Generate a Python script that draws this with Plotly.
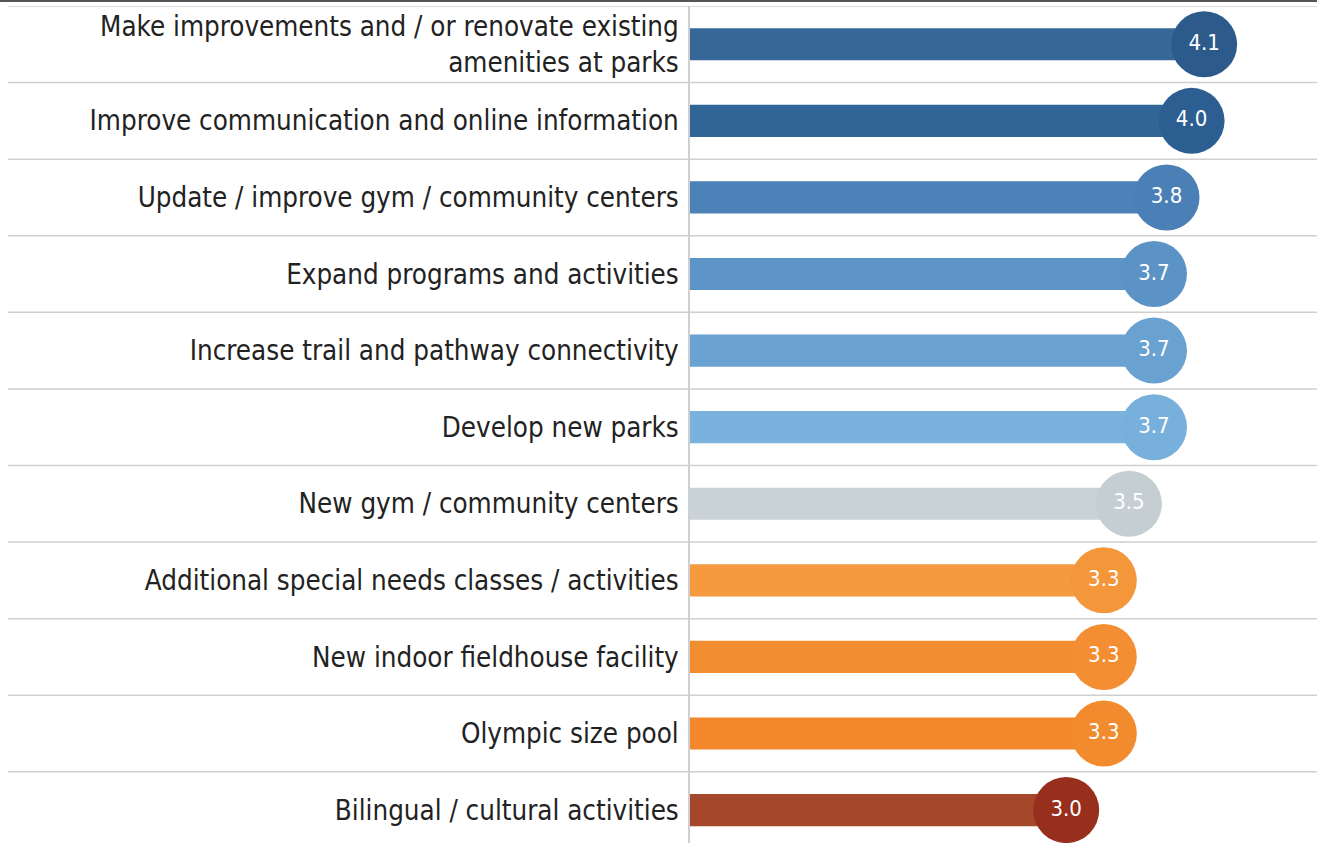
import plotly.graph_objects as go

# Survey priorities, top to bottom, with their mean rating
categories = [
    "Make improvements and / or renovate existing<br>amenities at parks",
    "Improve communication and online information",
    "Update / improve gym / community centers",
    "Expand programs and activities",
    "Increase trail and pathway connectivity",
    "Develop new parks",
    "New gym / community centers",
    "Additional special needs classes / activities",
    "New indoor fieldhouse facility",
    "Olympic size pool",
    "Bilingual / cultural activities",
]
scores = [4.1, 4.0, 3.8, 3.7, 3.7, 3.7, 3.5, 3.3, 3.3, 3.3, 3.0]

bar_colors = ["#366796", "#316497", "#4c82b8", "#5e95c9", "#6aa2d3", "#7ab2de",
              "#c9d3d7", "#f59a3e", "#f38d32", "#f2872b", "#a5472b"]
dot_colors = ["#2c5b8b", "#2d5e91", "#4a80b6", "#5c93c6", "#69a1d1", "#78b0dc",
              "#c5cfd3", "#f4963a", "#f38e33", "#f28a2e", "#972f1c"]

FONT = "DejaVu Sans Condensed, DejaVu Sans, sans-serif"
rows = list(range(len(categories)))

fig = go.Figure()
fig.add_trace(go.Bar(
    x=scores, y=rows, orientation="h", width=0.42,
    marker=dict(color=bar_colors, line=dict(width=0)),
    hoverinfo="skip",
))
fig.add_trace(go.Scatter(
    x=scores, y=rows, mode="markers+text",
    marker=dict(size=66, color=dot_colors, line=dict(width=0)),
    text=[f"{v:.1f}" for v in scores],
    textposition="middle center",
    textfont=dict(family=FONT, size=22, color="white"),
    hoverinfo="skip",
))

# Row separators across the full width (labels included)
plot_left, plot_w = 690, 627
x_start = (8 - plot_left) / plot_w
for b in range(len(categories) + 1):
    fig.add_shape(type="line", xref="paper", yref="y",
                  x0=x_start, x1=1, y0=b - 0.5, y1=b - 0.5,
                  line=dict(color="#cfcfcf", width=1.5))
# Dark rule along the top edge
fig.add_shape(type="line", xref="paper", yref="paper",
              x0=-plot_left / plot_w, x1=1, y0=1.006, y1=1.006,
              line=dict(color="#555555", width=2))

fig.update_layout(
    width=1317, height=843,
    margin=dict(l=plot_left, r=0, t=6, b=0),
    paper_bgcolor="white", plot_bgcolor="white",
    showlegend=False,
    font=dict(family=FONT),
    xaxis=dict(range=[0, 5], showgrid=False, zeroline=False,
               showticklabels=False, fixedrange=True),
    yaxis=dict(range=[10.43, -0.5], tickvals=rows, ticktext=categories,
               showgrid=False, zeroline=False, ticks="",
               showline=True, linecolor="#cfcfcf", linewidth=1.5,
               tickfont=dict(family=FONT, size=27.5, color="#222222"),
               ticklabelstandoff=4),
)

fig.write_html("out.html")
